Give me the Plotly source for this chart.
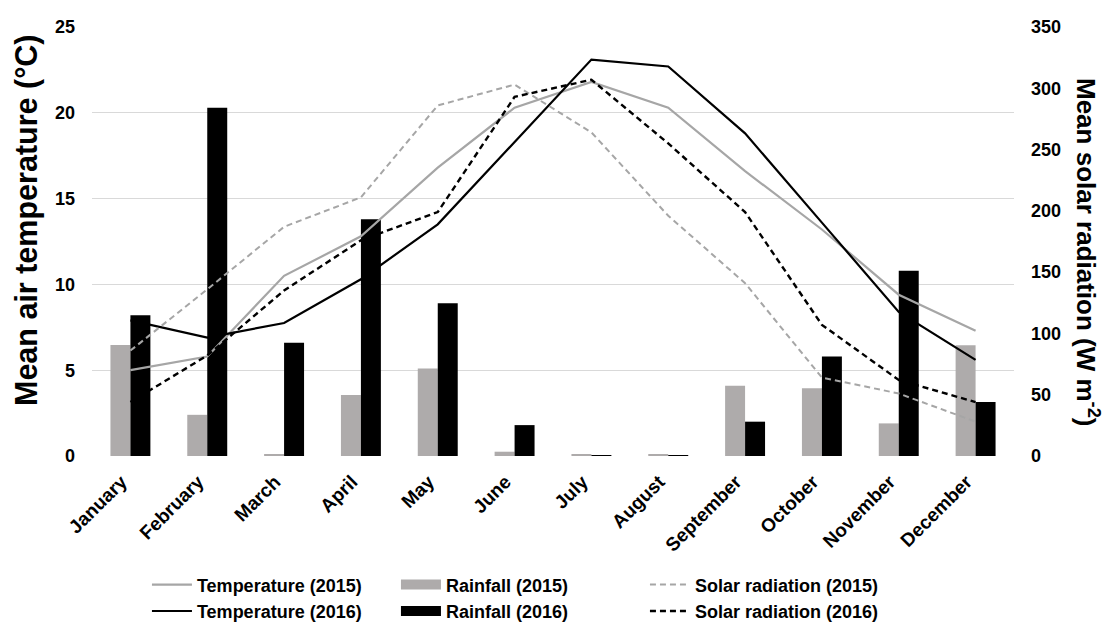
import plotly.graph_objects as go

months = ["January", "February", "March", "April", "May", "June", "July",
          "August", "September", "October", "November", "December"]

temp_2015 = [5.0, 5.8, 10.5, 12.8, 16.8, 20.3, 21.8, 20.3, 16.6, 13.2, 9.4, 7.3]
temp_2016 = [7.9, 6.9, 7.75, 10.3, 13.5, 18.3, 23.1, 22.7, 18.8, 13.6, 8.4, 5.6]
rain_2015 = [6.47, 2.4, 0.1, 3.55, 5.1, 0.25, 0.1, 0.1, 4.1, 3.95, 1.9, 6.45]
rain_2016 = [8.2, 20.3, 6.6, 13.8, 8.9, 1.8, 0.05, 0.05, 2.0, 5.8, 10.8, 3.15]
solar_2015 = [86, 136, 187, 211, 286, 303, 264, 196, 141, 64, 51, 28]
solar_2016 = [44, 82, 135, 176, 199, 293, 307, 255, 199, 107, 62, 44]

left_ticks = [0, 5, 10, 15, 20, 25]
right_ticks = [0, 50, 100, 150, 200, 250, 300, 350]

GRAY_LINE = "#a6a6a6"
GRAY_BAR = "#aeabab"
FONT = "Liberation Sans, Arial, sans-serif"
BOLD = dict(family=FONT, color="#000000", weight="bold")

fig = go.Figure()
# Bars (legend shown through wide-rectangle proxy entries below)
fig.add_trace(go.Bar(x=months, y=rain_2015, name="Rainfall (2015)", marker_color=GRAY_BAR,
                     marker_line_width=0, showlegend=False))
fig.add_trace(go.Bar(x=months, y=rain_2016, name="Rainfall (2016)", marker_color="#000000",
                     marker_line_width=0, showlegend=False))

# Row 1 of legend
fig.add_trace(go.Scatter(x=months, y=temp_2015, name="Temperature (2015)", mode="lines",
                         line=dict(color=GRAY_LINE, width=2.2)))
fig.add_trace(go.Scatter(x=[None], y=[None], name="Rainfall (2015)", mode="lines",
                         line=dict(color=GRAY_BAR, width=13)))
fig.add_trace(go.Scatter(x=months, y=solar_2015, name="Solar radiation (2015)", mode="lines",
                         yaxis="y2", line=dict(color=GRAY_LINE, width=2, dash="6px,4px")))
# Row 2 of legend
fig.add_trace(go.Scatter(x=months, y=temp_2016, name="Temperature (2016)", mode="lines",
                         line=dict(color="#000000", width=2.2)))
fig.add_trace(go.Scatter(x=[None], y=[None], name="Rainfall (2016)", mode="lines",
                         line=dict(color="#000000", width=13)))
fig.add_trace(go.Scatter(x=months, y=solar_2016, name="Solar radiation (2016)", mode="lines",
                         yaxis="y2", line=dict(color="#000000", width=2.4, dash="6px,4px")))

fig.update_layout(
    width=1107, height=626,
    margin=dict(l=92, r=93, t=27, b=170, autoexpand=False),
    paper_bgcolor="white", plot_bgcolor="white",
    font=dict(family=FONT, color="#000000"),
    barmode="group", bargap=0.48, bargroupgap=0,
    showlegend=True,
    legend=dict(orientation="h", x=0.0596, xanchor="left", y=-0.2573, yanchor="top",
                entrywidth=194, entrywidthmode="pixels", tracegroupgap=0,
                font=dict(size=18, **BOLD),
                itemwidth=40, traceorder="normal"),
    xaxis=dict(
        type="category", tickangle=-45, showgrid=False, showline=False,
        ticks="", automargin=False, ticklabelstandoff=10, ticklabelshift=-9,
        tickfont=dict(size=19, **BOLD),
    ),
    yaxis=dict(
        range=[0, 25], tickvals=left_ticks, ticktext=[str(v) for v in left_ticks],
        showgrid=True, gridcolor="#d9d9d9", gridwidth=1.3, zeroline=False,
        showline=False, ticks="", ticklabelstandoff=16, automargin=False,
        tickfont=dict(size=18, **BOLD),
    ),
    yaxis2=dict(
        range=[0, 350], tickvals=right_ticks, ticktext=[str(v) for v in right_ticks],
        overlaying="y", side="right", showgrid=False, zeroline=False,
        showline=False, ticks="", ticklabelstandoff=16, automargin=False,
        tickfont=dict(size=18, **BOLD),
    ),
    annotations=[
        dict(text="Mean air temperature (°C)", textangle=-90, showarrow=False,
             xref="paper", yref="paper", x=(26 - 92) / 922, y=(456 - 220) / 429,
             xanchor="center", yanchor="middle", font=dict(size=30.5, **BOLD)),
        dict(text="Mean solar radiation (W m<sup>-2</sup>)", textangle=90, showarrow=False,
             xref="paper", yref="paper", x=(1088 - 92) / 922, y=(456 - 252) / 429,
             xanchor="center", yanchor="middle", font=dict(size=26, **BOLD)),
    ],
)

fig.write_html("out.html", config={"displayModeBar": False},
               post_script="document.body.style.margin='0px';")
